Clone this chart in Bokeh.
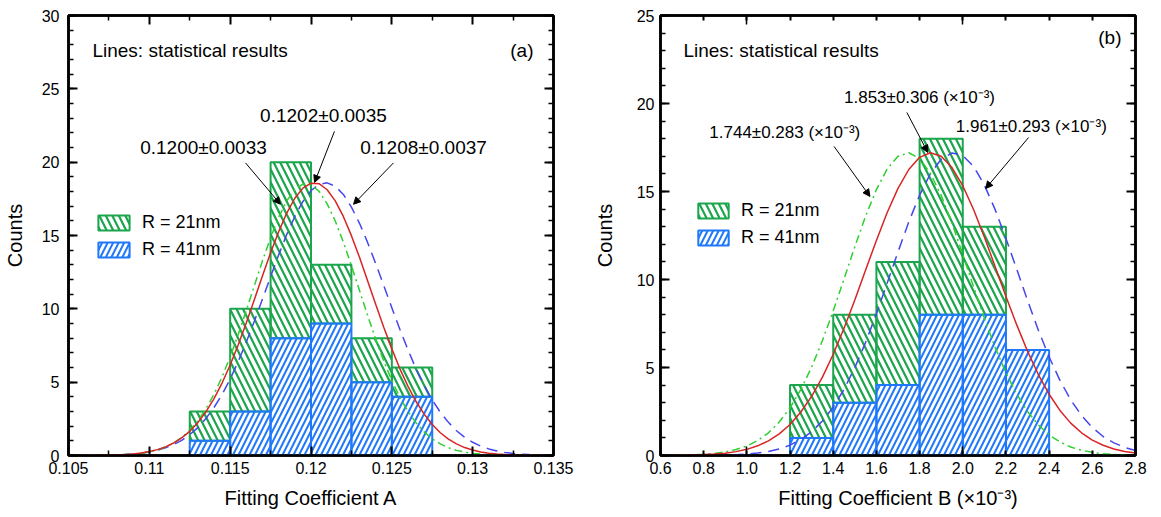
from bokeh.plotting import figure
from bokeh.layouts import row
from bokeh.models import (Range1d, FixedTicker, LinearAxis, Legend, LegendItem,
                          Label, Arrow, NormalHead)
from bokeh.embed import file_html
from bokeh.resources import INLINE

FONT = "Liberation Sans"

# ---------------- data: panel (a) ----------------
a_bin_centers = [0.11375, 0.11625, 0.11875, 0.12125, 0.12375, 0.12625]
a_bin_width = 0.0025
a_counts_21nm = [2, 7, 12, 4, 3, 2]      # green, stacked on top
a_counts_41nm = [1, 3, 8, 9, 5, 4]       # blue, bottom
a_curve_x = [0.105, 0.1055, 0.106, 0.1065, 0.107, 0.1075, 0.108, 0.1085, 0.109, 0.1095,
             0.11, 0.1105, 0.111, 0.1115, 0.112, 0.1125, 0.113, 0.1135, 0.114, 0.1145,
             0.115, 0.1155, 0.116, 0.1165, 0.117, 0.1175, 0.118, 0.1185, 0.119, 0.1195,
             0.12, 0.1205, 0.121, 0.1215, 0.122, 0.1225, 0.123, 0.1235, 0.124, 0.1245,
             0.125, 0.1255, 0.126, 0.1265, 0.127, 0.1275, 0.128, 0.1285, 0.129, 0.1295,
             0.13, 0.1305, 0.131, 0.1315, 0.132, 0.1325, 0.133, 0.1335, 0.134, 0.1345, 0.135]
a_curve_all = [0.00, 0.00, 0.01, 0.01, 0.02, 0.03, 0.04, 0.07, 0.11, 0.17,
               0.27, 0.40, 0.59, 0.85, 1.20, 1.65, 2.24, 2.98, 3.88, 4.94,
               6.17, 7.55, 9.05, 10.64, 12.25, 13.82, 15.26, 16.53, 17.54, 18.23,
               18.57, 18.53, 18.12, 17.36, 16.30, 14.99, 13.51, 11.92, 10.31, 8.74,
               7.27, 5.91, 4.71, 3.68, 2.82, 2.11, 1.55, 1.12, 0.79, 0.54,
               0.37, 0.24, 0.16, 0.10, 0.06, 0.04, 0.02, 0.01, 0.01, 0.00, 0.00]
a_curve_21nm = [0.00, 0.00, 0.00, 0.01, 0.01, 0.02, 0.03, 0.06, 0.10, 0.16,
                0.25, 0.38, 0.58, 0.85, 1.22, 1.72, 2.36, 3.18, 4.18, 5.36,
                6.73, 8.25, 9.90, 11.59, 13.28, 14.85, 16.25, 17.36, 18.14, 18.51,
                18.47, 18.01, 17.16, 15.99, 14.55, 12.95, 11.25, 9.56, 7.94, 6.44,
                5.11, 3.96, 3.00, 2.22, 1.61, 1.13, 0.79, 0.53, 0.35, 0.23,
                0.14, 0.09, 0.05, 0.03, 0.02, 0.01, 0.01, 0.00, 0.00, 0.00, 0.00]
a_curve_41nm = [0.00, 0.00, 0.01, 0.01, 0.02, 0.03, 0.04, 0.07, 0.11, 0.16,
                0.24, 0.36, 0.52, 0.74, 1.03, 1.42, 1.90, 2.52, 3.27, 4.16,
                5.21, 6.42, 7.74, 9.17, 10.67, 12.19, 13.68, 15.07, 16.30, 17.32,
                18.06, 18.49, 18.59, 18.36, 17.80, 16.94, 15.83, 14.53, 13.09, 11.59,
                10.07, 8.59, 7.20, 5.91, 4.78, 3.79, 2.95, 2.26, 1.69, 1.25,
                0.90, 0.64, 0.45, 0.31, 0.21, 0.14, 0.09, 0.06, 0.04, 0.02, 0.01]
a_xtick_values = [0.105, 0.11, 0.115, 0.12, 0.125, 0.13, 0.135]
a_xtick_labels = ["0.105", "0.11", "0.115", "0.12", "0.125", "0.13", "0.135"]
a_ytick_values = [0, 5, 10, 15, 20, 25, 30]
a_stats_text = ["0.1202±0.0035", "0.1200±0.0033", "0.1208±0.0037"]

# ---------------- data: panel (b) ----------------
b_bin_centers = [1.3, 1.5, 1.7, 1.9, 2.1, 2.3]
b_bin_width = 0.2
b_counts_21nm = [3, 5, 7, 10, 5, 0]
b_counts_41nm = [1, 3, 4, 8, 8, 6]
b_curve_x = [0.6, 0.65, 0.7, 0.75, 0.8, 0.85, 0.9, 0.95, 1.0, 1.05,
             1.1, 1.15, 1.2, 1.25, 1.3, 1.35, 1.4, 1.45, 1.5, 1.55,
             1.6, 1.65, 1.7, 1.75, 1.8, 1.85, 1.9, 1.95, 2.0, 2.05,
             2.1, 2.15, 2.2, 2.25, 2.3, 2.35, 2.4, 2.45, 2.5, 2.55,
             2.6, 2.65, 2.7, 2.75, 2.8]
b_curve_all = [0.00, 0.01, 0.01, 0.03, 0.05, 0.08, 0.13, 0.22, 0.35, 0.55,
               0.83, 1.23, 1.76, 2.47, 3.36, 4.45, 5.75, 7.23, 8.84, 10.54,
               12.22, 13.81, 15.18, 16.25, 16.94, 17.20, 17.00, 16.36, 15.33, 13.98,
               12.42, 10.73, 9.04, 7.42, 5.92, 4.60, 3.48, 2.56, 1.84, 1.29,
               0.87, 0.58, 0.37, 0.23, 0.14]
b_curve_21nm = [0.00, 0.01, 0.02, 0.04, 0.07, 0.12, 0.20, 0.34, 0.54, 0.85,
                1.29, 1.90, 2.71, 3.75, 5.02, 6.53, 8.22, 10.03, 11.86, 13.60,
                15.11, 16.28, 17.00, 17.20, 16.87, 16.03, 14.78, 13.20, 11.42, 9.59,
                7.80, 6.14, 4.70, 3.48, 2.50, 1.74, 1.17, 0.77, 0.48, 0.30,
                0.18, 0.10, 0.06, 0.03, 0.02]
b_curve_41nm = [0.00, 0.00, 0.00, 0.00, 0.01, 0.01, 0.02, 0.04, 0.08, 0.14,
                0.23, 0.37, 0.59, 0.91, 1.35, 1.96, 2.75, 3.76, 4.99, 6.43,
                8.05, 9.80, 11.57, 13.27, 14.79, 16.01, 16.83, 17.19, 17.05, 16.42,
                15.37, 13.97, 12.33, 10.58, 8.81, 7.12, 5.60, 4.27, 3.16, 2.28,
                1.59, 1.08, 0.72, 0.46, 0.28]
b_xtick_values = [0.6, 0.8, 1.0, 1.2, 1.4, 1.6, 1.8, 2.0, 2.2, 2.4, 2.6, 2.8]
b_xtick_labels = ["0.6", "0.8", "1.0", "1.2", "1.4", "1.6", "1.8", "2.0", "2.2", "2.4", "2.6", "2.8"]
b_ytick_values = [0, 5, 10, 15, 20, 25]
b_stats_text = ["1.853±0.306  (×10⁻³)", "1.744±0.283  (×10⁻³)", "1.961±0.293  (×10⁻³)"]

legend_labels = ["R = 21nm", "R = 41nm"]

# ---------------- styles ----------------
GREEN_BAR = "#1ba54c"
BLUE_BAR = "#1f78fb"
RED_LINE = "#d82424"
GREEN_LINE = "#2fcf2f"
BLUE_LINE = "#4646ee"
H = 517


def make_fig(width, xr, yr, bl, br, bb, xlabel):
    p = figure(width=width, height=H, x_range=xr, y_range=yr,
               output_backend="svg", toolbar_location=None,
               min_border_left=bl, min_border_right=br, min_border_top=15,
               min_border_bottom=bb)
    p.grid.visible = False
    p.outline_line_color = "black"
    p.outline_line_width = 2.5
    p.background_fill_color = "white"
    p.border_fill_color = "white"
    p.xaxis.axis_label = xlabel
    p.yaxis.axis_label = "Counts"
    return p


def style_axis(ax, ticker, major_in, minor_in, show_labels, standoff=6):
    ax.ticker = ticker
    ax.axis_line_color = "black"
    ax.axis_line_width = 2.5
    ax.major_tick_in = major_in
    ax.major_tick_out = 0
    ax.minor_tick_in = minor_in
    ax.minor_tick_out = 0
    ax.major_tick_line_color = "black"
    ax.minor_tick_line_color = "black"
    ax.major_tick_line_width = 2
    ax.minor_tick_line_width = 1.5
    ax.major_label_text_font = FONT
    ax.axis_label_text_font = FONT
    ax.axis_label_text_font_style = "normal"
    ax.axis_label_text_font_size = "20px"
    ax.axis_label_text_color = "black"
    if show_labels:
        ax.major_label_text_font_size = "16px"
        ax.major_label_text_color = "black"
        ax.major_label_standoff = standoff
    else:
        ax.major_label_text_font_size = "1px"
        ax.major_label_text_color = None
        ax.major_label_standoff = 0


def add_bars_and_curves(p, centers, width, c41, c21, cx, call, c21c, c41c):
    bottoms = c41
    tops = [a + b for a, b in zip(c41, c21)]
    g = p.vbar(x=centers, width=width, bottom=bottoms, top=tops,
               fill_color=None, line_color=GREEN_BAR, line_width=2,
               hatch_pattern="\\", hatch_color=GREEN_BAR, hatch_weight=2.2,
               hatch_scale=13)
    b = p.vbar(x=centers, width=width, bottom=0, top=c41,
               fill_color=None, line_color=BLUE_BAR, line_width=2,
               hatch_pattern="/", hatch_color=BLUE_BAR, hatch_weight=2,
               hatch_scale=11)
    p.line(cx, c41c, line_color=BLUE_LINE, line_width=1.5, line_dash="11 7")
    p.line(cx, c21c, line_color=GREEN_LINE, line_width=1.5, line_dash="8 4 2 4")
    p.line(cx, call, line_color=RED_LINE, line_width=1.5)
    return g, b


def add_legend(p, g, b, loc, gw, standoff):
    leg = Legend(items=[LegendItem(label=legend_labels[0], renderers=[g]),
                        LegendItem(label=legend_labels[1], renderers=[b])],
                 location=loc, glyph_width=gw, glyph_height=19, label_height=19,
                 label_standoff=standoff, spacing=6, padding=0, margin=0,
                 border_line_color=None, background_fill_alpha=0,
                 label_text_font=FONT, label_text_font_size="18px",
                 label_text_color="black")
    p.add_layout(leg)


def txt(p, x, y, text, size, align="center"):
    p.add_layout(Label(x=x, y=y, text=text, text_font=FONT, text_font_size=size,
                       text_align=align, text_baseline="middle", text_color="black"))


def arrow(p, xs, ys, xe, ye):
    p.add_layout(Arrow(end=NormalHead(size=7, fill_color="black", line_color="black",
                                      line_width=1),
                       x_start=xs, y_start=ys, x_end=xe, y_end=ye,
                       line_color="black", line_width=1))


# ---------------- panel (a) ----------------
pa = make_fig(590, Range1d(0.105, 0.135), Range1d(0, 30), 68, 37, 59,
              "Fitting Coefficient A")
a_xt = FixedTicker(ticks=a_xtick_values,
                   minor_ticks=[0.1075, 0.1125, 0.1175, 0.1225, 0.1275, 0.1325])
a_yt = FixedTicker(ticks=a_ytick_values, minor_ticks=list(range(0, 31)))
style_axis(pa.xaxis[0], a_xt, 9, 5, True, 6)
pa.xaxis[0].major_label_overrides = dict(zip(a_xtick_values, a_xtick_labels))
pa.xaxis[0].axis_label_standoff = 10
style_axis(pa.yaxis[0], a_yt, 9, 5, True, 9)
pa.yaxis[0].axis_label_standoff = 13
top_a = LinearAxis()
style_axis(top_a, a_xt, 9, 5, False)
pa.add_layout(top_a, "above")
right_a = LinearAxis()
style_axis(right_a, a_yt, 9, 5, False)
pa.add_layout(right_a, "right")

ga, ba = add_bars_and_curves(pa, a_bin_centers, a_bin_width, a_counts_41nm, a_counts_21nm,
                             a_curve_x, a_curve_all, a_curve_21nm, a_curve_41nm)
add_legend(pa, ga, ba, (26, 195), 39, 9)
txt(pa, 0.10648, 27.6, "Lines: statistical results", "19px", "left")
txt(pa, 0.13376, 27.6, "(a)", "19px", "right")
txt(pa, 0.12077, 23.2, a_stats_text[0], "19px")
txt(pa, 0.11335, 21.0, a_stats_text[1], "19px")
txt(pa, 0.12696, 21.0, a_stats_text[2], "19px")
arrow(pa, 0.12145, 22.1, 0.12022, 18.62)
arrow(pa, 0.11595, 19.95, 0.11811, 17.13)
arrow(pa, 0.12510, 19.95, 0.12263, 17.13)

# ---------------- panel (b) ----------------
pb = make_fig(571, Range1d(0.6, 2.8), Range1d(0, 25), 69, 26, 62,
              "Fitting Coefficient B (×10⁻³)")
b_xt = FixedTicker(ticks=b_xtick_values, minor_ticks=[1.0, 2.0])
b_yt = FixedTicker(ticks=b_ytick_values, minor_ticks=list(range(0, 26)))
style_axis(pb.xaxis[0], b_xt, 5, 9, True, 6)
pb.xaxis[0].major_label_overrides = dict(zip(b_xtick_values, b_xtick_labels))
pb.xaxis[0].axis_label_standoff = 10
style_axis(pb.yaxis[0], b_yt, 9, 5, True, 6)
pb.yaxis[0].axis_label_standoff = 18
top_b = LinearAxis()
style_axis(top_b, b_xt, 5, 9, False)
pb.add_layout(top_b, "above")
right_b = LinearAxis()
style_axis(right_b, b_yt, 9, 5, False)
pb.add_layout(right_b, "right")

gb, bb = add_bars_and_curves(pb, b_bin_centers, b_bin_width, b_counts_41nm, b_counts_21nm,
                             b_curve_x, b_curve_all, b_curve_21nm, b_curve_41nm)
add_legend(pb, gb, bb, (34, 207), 38, 9)
txt(pb, 0.706, 23.0, "Lines: statistical results", "19px", "left")
txt(pb, 2.735, 23.75, "(b)", "19px", "right")
txt(pb, 1.450, 20.34, b_stats_text[0], "17px", "left")
txt(pb, 0.826, 18.35, b_stats_text[1], "17px", "left")
txt(pb, 1.968, 18.69, b_stats_text[2], "17px", "left")
arrow(pb, 1.741, 19.49, 1.838, 17.22)
arrow(pb, 1.404, 17.56, 1.570, 14.72)
arrow(pb, 2.305, 18.07, 2.106, 15.17)

layout = row(pa, pb)
open("out.html", "w").write(file_html(layout, INLINE))
